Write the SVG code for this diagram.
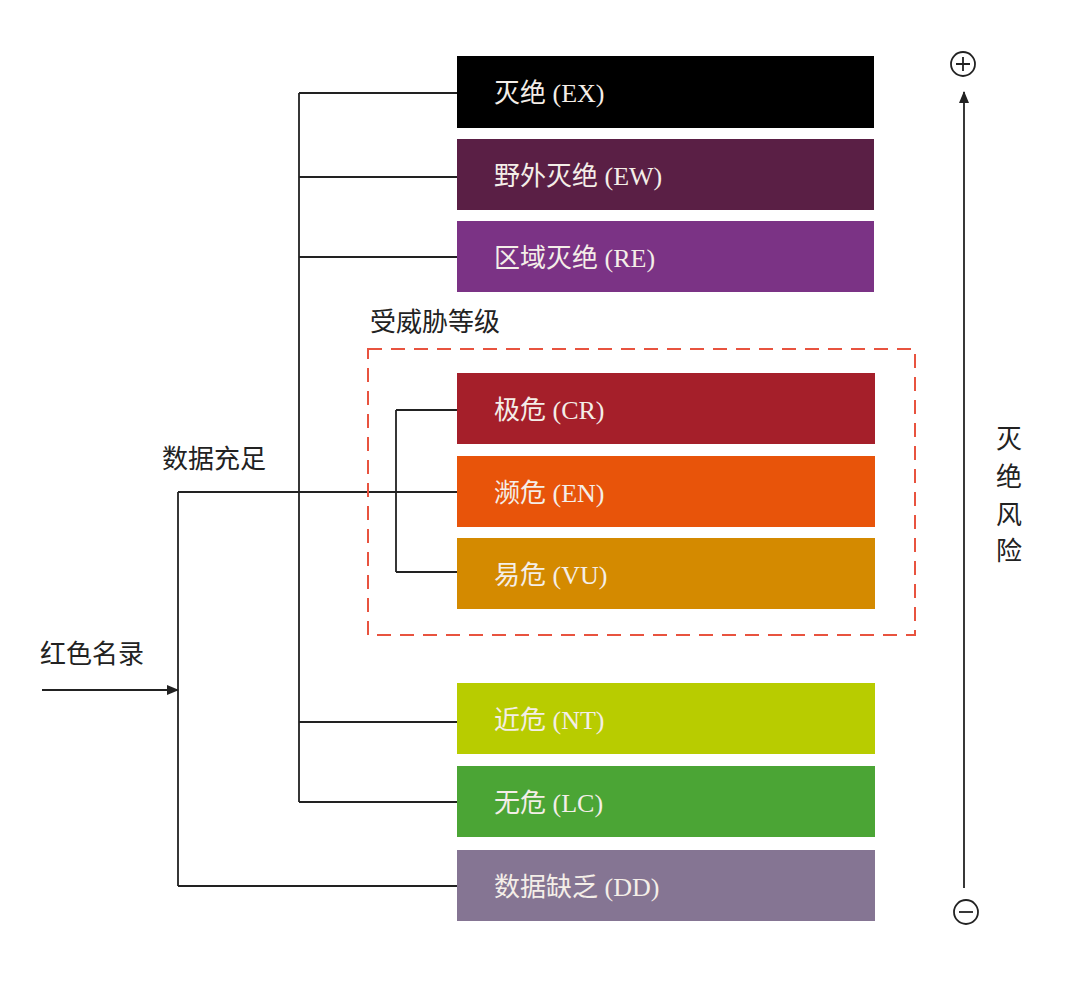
<svg xmlns="http://www.w3.org/2000/svg" width="1080" height="982" viewBox="0 0 1080 982">
<style>
.l{fill:#f4eee8;font-family:"Liberation Serif","Noto Sans CJK SC",serif;font-size:26px}
.t{fill:#222;font-family:"Liberation Serif","Noto Sans CJK SC",serif;font-size:26px}
.c{stroke:#222;stroke-width:1.8;fill:none}
</style>
<defs><marker id="a" markerWidth="12" markerHeight="10" refX="11" refY="5" orient="auto" markerUnits="userSpaceOnUse"><path d="M0,0L12,5L0,10z" fill="#222"/></marker></defs>
<rect width="1080" height="982" fill="#fff"/>
<g id="connectors" class="c">
<path d="M299,93V802M299,93H457M299,177H457M299,257H457M299,722H457M299,802H457"/>
<path d="M178,492V886M178,492H457M178,886H457"/>
<path d="M396,410V572M396,410H457M396,572H457"/>
<path d="M42,690H178" marker-end="url(#a)"/>
<path d="M964,888V92" marker-end="url(#a)"/>
<circle cx="963" cy="64" r="12"/><path d="M956,64H970M963,57V71"/>
<circle cx="966" cy="912" r="12"/><path d="M959,912H973"/>
</g>
<rect x="368" y="349" width="547" height="286" fill="none" stroke="#e8533f" stroke-width="2" stroke-dasharray="14,9"/>
<g id="EX"><rect x="457" y="56" width="417" height="72" fill="#000"/><text class="l" x="494" y="102">灭绝 (EX)</text></g>
<g id="EW"><rect x="457" y="139" width="417" height="71" fill="#5a1f45"/><text class="l" x="494" y="185">野外灭绝 (EW)</text></g>
<g id="RE"><rect x="457" y="221" width="417" height="71" fill="#7b3385"/><text class="l" x="494" y="267">区域灭绝 (RE)</text></g>
<g id="CR"><rect x="457" y="373" width="418" height="71" fill="#a51f2a"/><text class="l" x="494" y="419">极危 (CR)</text></g>
<g id="EN"><rect x="457" y="456" width="418" height="71" fill="#e8540a"/><text class="l" x="494" y="502">濒危 (EN)</text></g>
<g id="VU"><rect x="457" y="538" width="418" height="71" fill="#d48a00"/><text class="l" x="494" y="584">易危 (VU)</text></g>
<g id="NT"><rect x="457" y="683" width="418" height="71" fill="#b8cc00"/><text class="l" x="494" y="729">近危 (NT)</text></g>
<g id="LC"><rect x="457" y="766" width="418" height="71" fill="#4ba535"/><text class="l" x="494" y="812">无危 (LC)</text></g>
<g id="DD"><rect x="457" y="850" width="418" height="71" fill="#857593"/><text class="l" x="494" y="896">数据缺乏 (DD)</text></g>
<text class="t" x="370" y="331">受威胁等级</text>
<text class="t" x="162" y="468">数据充足</text>
<text class="t" x="40" y="663">红色名录</text>
<g class="t"><text x="996" y="448">灭</text><text x="996" y="486">绝</text><text x="996" y="524">风</text><text x="996" y="560">险</text></g>
</svg>
